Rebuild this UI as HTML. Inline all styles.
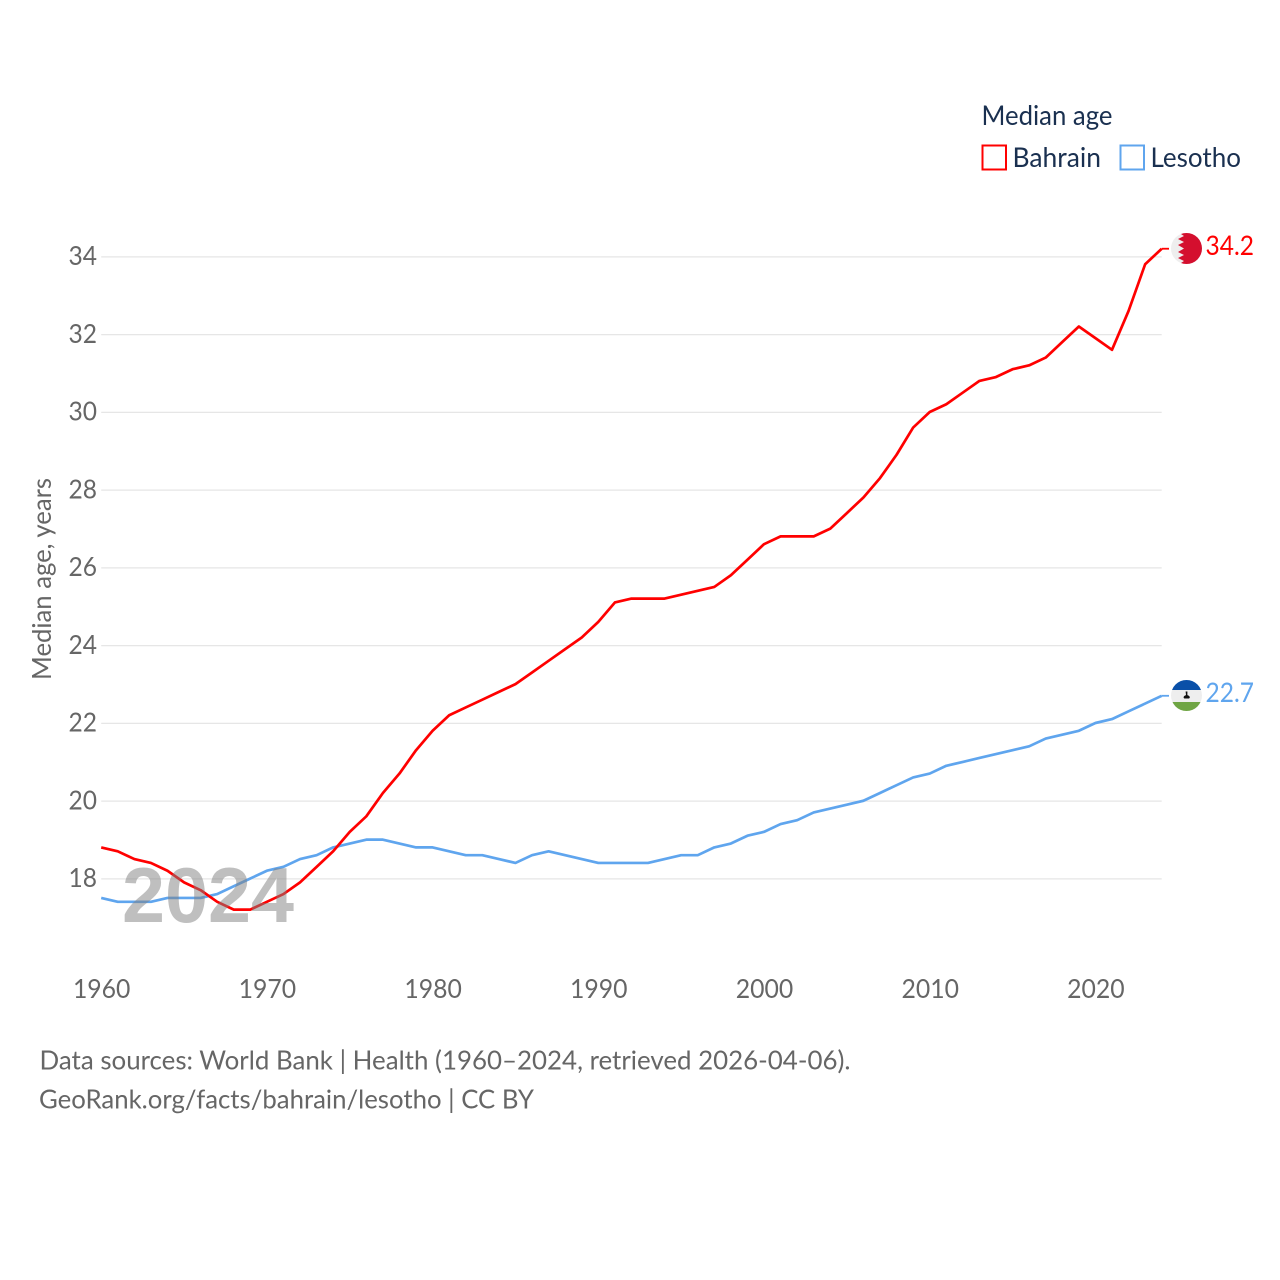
<!DOCTYPE html>
<html lang="en">
<head>
<meta charset="utf-8">
<title>Median age: Bahrain and Lesotho</title>
<style>
html,body{margin:0;padding:0;background:#fff;}
svg{display:block;}
text{font-family:"Lato","Carlito","Liberation Sans",sans-serif;}
</style>
</head>
<body>
<svg id="chart" xmlns="http://www.w3.org/2000/svg" width="1280" height="1280" viewBox="0 0 1280 1280">
  <rect width="1280" height="1280" fill="#fff"/>
  <g id="grid"></g>
  <g id="yticks"></g>
  <g id="xticks"></g>
  <text transform="translate(51 680) rotate(-90)" font-size="26" fill="#666" textLength="202" lengthAdjust="spacingAndGlyphs">Median age, years</text>
  <g id="series"></g>
  <text x="122" y="922" font-size="78" font-weight="700" fill="#808080" fill-opacity="0.5" style="font-family:'Liberation Sans',sans-serif" textLength="172" lengthAdjust="spacingAndGlyphs">2024</text>

  <g>
    <text x="981.5" y="125" font-size="27" fill="#1a3050" textLength="131" lengthAdjust="spacingAndGlyphs">Median age</text>
    <rect x="982.5" y="145.5" width="23.5" height="24" fill="#fff" stroke="#ff0000" stroke-width="2"/>
    <text x="1012.5" y="167" font-size="27" fill="#1a3050" textLength="88.5" lengthAdjust="spacingAndGlyphs">Bahrain</text>
    <rect x="1120.5" y="145.5" width="23.5" height="24" fill="#fff" stroke="#5fa5ee" stroke-width="2"/>
    <text x="1150.5" y="167" font-size="27" fill="#1a3050" textLength="90.5" lengthAdjust="spacingAndGlyphs">Lesotho</text>
  </g>

  <defs>
    <clipPath id="clip-bh"><circle cx="1186.5" cy="248.5" r="15.5"/></clipPath>
    <clipPath id="clip-ls"><circle cx="1186.5" cy="695.5" r="15.5"/></clipPath>
  </defs>
  <g clip-path="url(#clip-bh)">
    <rect x="1170" y="232" width="34" height="33" fill="#eeeeee"/>
    <polygon fill="#d40f2e" points="1204,232 1178,232 1184,236 1178,239 1184,242 1178,245 1184,248.5 1178,252 1184,255 1178,258 1184,261 1178,265 1204,265"/>
  </g>
  <g clip-path="url(#clip-ls)">
    <rect x="1170" y="679" width="34" height="11" fill="#0a50a8"/>
    <rect x="1170" y="690" width="34" height="12" fill="#eeeeee"/>
    <rect x="1170" y="702" width="34" height="11" fill="#6fa544"/>
    <path d="M1185.6 691.5h1.8v3.6c1.4.5 2.4 1.2 2.4 2.2 0 .5-.3 1-.8 1.2h-4.6c-.5-.2-.8-.7-.8-1.2 0-1 1-1.7 2.4-2.2z" fill="#111"/>
  </g>
  <text x="1205.5" y="255" font-size="27" fill="#ff0000" textLength="48.5" lengthAdjust="spacingAndGlyphs">34.2</text>
  <text x="1205.5" y="702" font-size="27" fill="#5fa5ee" textLength="48.5" lengthAdjust="spacingAndGlyphs">22.7</text>

  <text x="39.5" y="1069.5" font-size="26.5" fill="#666" textLength="811" lengthAdjust="spacingAndGlyphs">Data sources: World Bank | Health (1960–2024, retrieved 2026-04-06).</text>
  <text x="39" y="1108.5" font-size="26.5" fill="#666" textLength="495" lengthAdjust="spacingAndGlyphs">GeoRank.org/facts/bahrain/lesotho | CC BY</text>
</svg>
<script>
var years = [1960,1961,1962,1963,1964,1965,1966,1967,1968,1969,1970,1971,1972,1973,1974,1975,1976,1977,1978,1979,1980,1981,1982,1983,1984,1985,1986,1987,1988,1989,1990,1991,1992,1993,1994,1995,1996,1997,1998,1999,2000,2001,2002,2003,2004,2005,2006,2007,2008,2009,2010,2011,2012,2013,2014,2015,2016,2017,2018,2019,2020,2021,2022,2023,2024];
var bahrain = [18.8,18.7,18.5,18.4,18.2,17.9,17.7,17.4,17.2,17.2,17.4,17.6,17.9,18.3,18.7,19.2,19.6,20.2,20.7,21.3,21.8,22.2,22.4,22.6,22.8,23.0,23.3,23.6,23.9,24.2,24.6,25.1,25.2,25.2,25.2,25.3,25.4,25.5,25.8,26.2,26.6,26.8,26.8,26.8,27.0,27.4,27.8,28.3,28.9,29.6,30.0,30.2,30.5,30.8,30.9,31.1,31.2,31.4,31.8,32.2,31.9,31.6,32.6,33.8,34.2];
var lesotho = [17.5,17.4,17.4,17.4,17.5,17.5,17.5,17.6,17.8,18.0,18.2,18.3,18.5,18.6,18.8,18.9,19.0,19.0,18.9,18.8,18.8,18.7,18.6,18.6,18.5,18.4,18.6,18.7,18.6,18.5,18.4,18.4,18.4,18.4,18.5,18.6,18.6,18.8,18.9,19.1,19.2,19.4,19.5,19.7,19.8,19.9,20.0,20.2,20.4,20.6,20.7,20.9,21.0,21.1,21.2,21.3,21.4,21.6,21.7,21.8,22.0,22.1,22.3,22.5,22.7];
var yTickValues = [18,20,22,24,26,28,30,32,34];
var xTickValues = [1960,1970,1980,1990,2000,2010,2020];

var NS = 'http://www.w3.org/2000/svg';
function xScale(year) { return 101.2 + (year - 1960) * (1161.7 - 101.2) / 64; }
function yScale(value) { return 878.5 - (value - 18) * (878.5 - 256.5) / 16; }

var gridGroup = document.getElementById('grid');
var yTickGroup = document.getElementById('yticks');
var xTickGroup = document.getElementById('xticks');
var seriesGroup = document.getElementById('series');

yTickValues.forEach(function (v) {
  var line = document.createElementNS(NS, 'line');
  
  
  line.setAttribute('x1', 101.2);
  line.setAttribute('x2', 1161.7);
  line.setAttribute('y1', yScale(v) + 0.4);
  line.setAttribute('y2', yScale(v) + 0.4);
  line.setAttribute('stroke', '#e6e6e6');
  line.setAttribute('stroke-width', 1.3);
  gridGroup.appendChild(line);

  var label = document.createElementNS(NS, 'text');
  
  
  label.setAttribute('x', 97);
  label.setAttribute('y', yScale(v) + 8.5);
  label.setAttribute('text-anchor', 'end');
  label.setAttribute('font-size', 26);
  label.setAttribute('textLength', 28.5);
  label.setAttribute('lengthAdjust', 'spacingAndGlyphs');
  label.setAttribute('fill', '#666');
  label.textContent = String(v);
  yTickGroup.appendChild(label);
});

xTickValues.forEach(function (y) {
  var label = document.createElementNS(NS, 'text');
  
  
  label.setAttribute('x', xScale(y) + 0.5);
  label.setAttribute('y', 998);
  label.setAttribute('text-anchor', 'middle');
  label.setAttribute('font-size', 26);
  label.setAttribute('textLength', 57.5);
  label.setAttribute('lengthAdjust', 'spacingAndGlyphs');
  label.setAttribute('fill', '#666');
  label.textContent = String(y);
  xTickGroup.appendChild(label);
});

function drawSeries(name, values, color) {
  var d = values.map(function (v, i) {
    return (i ? 'L' : 'M') + xScale(years[i]).toFixed(2) + ' ' + yScale(v).toFixed(2);
  }).join(' ');
  var path = document.createElementNS(NS, 'path');
  
  
  path.setAttribute('d', d);
  path.setAttribute('fill', 'none');
  path.setAttribute('stroke', color);
  path.setAttribute('stroke-width', 2.7);
  path.setAttribute('stroke-linejoin', 'round');
  seriesGroup.appendChild(path);

  var lastY = yScale(values[values.length - 1]);
  var connector = document.createElementNS(NS, 'line');
  
  
  connector.setAttribute('x1', xScale(years[years.length - 1]));
  connector.setAttribute('x2', 1169);
  connector.setAttribute('y1', lastY);
  connector.setAttribute('y2', lastY);
  connector.setAttribute('stroke', color);
  connector.setAttribute('stroke-width', 1.8);
  seriesGroup.appendChild(connector);
}
drawSeries('lesotho', lesotho, '#5fa5ee');
drawSeries('bahrain', bahrain, '#ff0000');
</script>
</body>
</html>
